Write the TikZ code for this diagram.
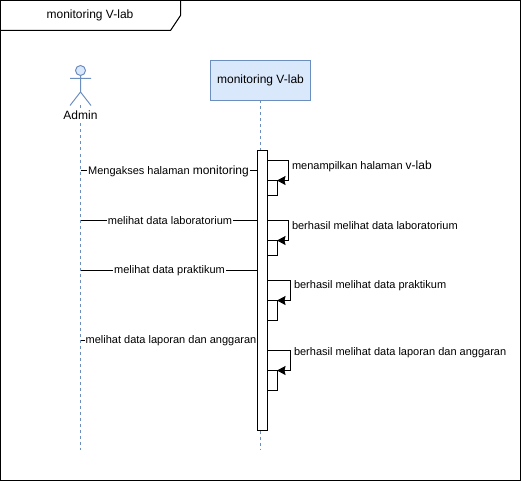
\documentclass[tikz,border=0pt]{standalone}
\usepackage{fontspec}
\setmainfont{Liberation Sans}
\usetikzlibrary{arrows.meta}
\definecolor{lifefill}{HTML}{DAE8FC}
\definecolor{lifeline}{HTML}{6C8EBF}
\begin{document}
\begin{tikzpicture}[
        x = 1pt, y = -1pt,
        line width = 1pt,
        every node/.style = {outer sep = 0pt},
        txt/.style = {inner sep = 0pt, font = \fontsize{11}{13}\selectfont},
        msgtxt/.style = {txt, fill = white, inner xsep = 1pt, inner ysep = 1pt},
        selftxt/.style = {txt, anchor = west},
        lifebox/.style = {draw = lifeline, fill = lifefill, minimum width = 100pt, minimum height = 40pt, inner sep = 0pt, font = \fontsize{12}{14}\selectfont},
        life/.style = {draw = lifeline, dashed, dash pattern = on 3pt off 3pt},
        stick/.style = {draw = lifeline},
        activ/.style = {draw, fill = white, minimum width = 10pt, minimum height = 280pt, inner sep = 0pt},
        subactiv/.style = {draw, fill = white, minimum width = 10pt, inner sep = 0pt, anchor = north west},
        msg/.style = {draw},
        selfmsg/.style = {draw, -{Stealth[length = 8.5pt, width = 9pt, inset = 1pt]}},
      ]
        \useasboundingbox (0,0) rectangle (521,481);
        % frame
        \node[draw, minimum width = 519.5pt, minimum height = 479.5pt, inner sep = 0pt, anchor = north west] (frame) at (0.5,0.5) {};
        \draw (0.5,30.5) -- (170.5,30.5) -- (180.5,15.5) -- (180.5,0.5);
        \node[txt, font = \fontsize{12}{14}\selectfont] (title) at (90,15.5) {monitoring V-lab};

        % actor
        \node[circle, stick, fill = lifefill, minimum size = 10pt, inner sep = 0pt] (head) at (80.5,70.5) {};
        \coordinate (hip) at (80.5,92);
        \coordinate (armL) at (70,78.5);
        \coordinate (armR) at (91,78.5);
        \coordinate (legL) at (70,105.5);
        \coordinate (legR) at (91,105.5);
        \coordinate (adminEnd) at (80.5,450);
        \draw[stick] (head) -- (hip) (armL) -- (armR) (legL) -- (hip) -- (legR);
        \draw[life] (80.5,105.5) -- (adminEnd);
        \node[txt, fill = white, font = \fontsize{12}{14}\selectfont, inner ysep = 3pt] (admin) at (80.5,115) {Admin};

        % lifeline
        \node[lifebox] (vlab) at (260.5,80.5) {monitoring V-lab};
        \coordinate (vlabEnd) at (260.5,450);
        \draw[life] (vlab) -- (vlabEnd);
        \node[activ] (act) at (262,290.5) {};

        % messages
        \coordinate (m1) at (80.5,170.5);
        \coordinate (m2) at (80.5,220.5);
        \coordinate (m3) at (80.5,270.5);
        \coordinate (m4) at (80.5,340.5);
        \draw[msg] (m1) -- (act.west |- m1);
        \draw[msg] (m2) -- (act.west |- m2);
        \draw[msg] (m3) -- (act.west |- m3);
        \draw[msg] (m4) -- (act.west |- m4);
        \node[msgtxt] (m1txt) at (168.5,171) {Mengakses halaman {\fontsize{12}{14}\selectfont monitoring}};
        \node[msgtxt] (m2txt) at (170,220.5) {melihat data laboratorium};
        \node[msgtxt] (m3txt) at (169.5,270.5) {melihat data praktikum};
        \node[msgtxt] (m4txt) at (171,340.5) {melihat data laporan dan anggaran};

        % self calls
        \coordinate (s1) at (267,160.5);
        \coordinate (c1) at (288.5,180.5);
        \node[subactiv, minimum height = 15pt] (b1) at (267,180.5) {};
        \draw[selfmsg] (s1) -| (c1) -- (b1.north east);
        \node[selftxt] (s1txt) at (292,166) {menampilkan halaman {\fontsize{12}{14}\selectfont v-lab}};

        \coordinate (s2) at (267,220.5);
        \coordinate (c2) at (288.5,240.5);
        \node[subactiv, minimum height = 15pt] (b2) at (267,240.5) {};
        \draw[selfmsg] (s2) -| (c2) -- (b2.north east);
        \node[selftxt] (s2txt) at (292,226) {berhasil melihat data laboratorium};

        \coordinate (s3) at (267,280.5);
        \coordinate (c3) at (290.5,300.5);
        \node[subactiv, minimum height = 20pt] (b3) at (267,300.5) {};
        \draw[selfmsg] (s3) -| (c3) -- (b3.north east);
        \node[selftxt] (s3txt) at (294,286) {berhasil melihat data praktikum};

        \coordinate (s4) at (267,350.5);
        \coordinate (c4) at (290.5,370.5);
        \node[subactiv, minimum height = 20pt] (b4) at (267,370.5) {};
        \draw[selfmsg] (s4) -| (c4) -- (b4.north east);
        \node[selftxt] (s4txt) at (294,353) {berhasil melihat data laporan dan anggaran};
      \end{tikzpicture}
\end{document}
